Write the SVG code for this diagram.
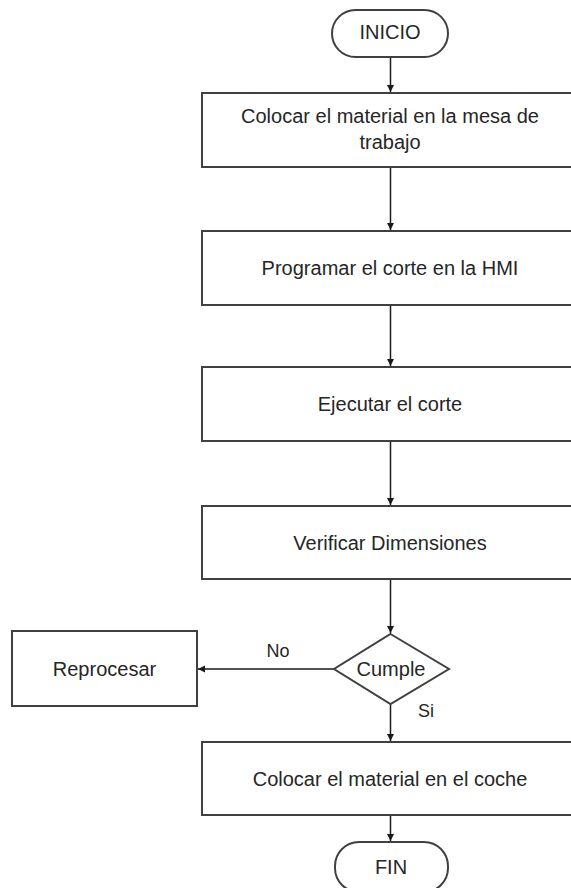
<svg xmlns="http://www.w3.org/2000/svg" width="571" height="888" viewBox="0 0 571 888">
<defs>
<style>
.box{fill:#fff;stroke:#404040;stroke-width:2}
.t{font-family:"Liberation Sans",Arial,sans-serif;font-size:20px;fill:#262626;text-anchor:middle}
.lbl{font-family:"Liberation Sans",Arial,sans-serif;font-size:18px;fill:#262626;text-anchor:middle}
.c{fill:none;stroke:#1a1a1a;stroke-width:1.5}
</style>
<marker id="ah" viewBox="0 0 10 10" refX="10" refY="5" markerWidth="7" markerHeight="8" markerUnits="userSpaceOnUse" orient="auto">
<path d="M0,0 L10,5 L0,10 z" fill="#1a1a1a"/>
</marker>
</defs>
<rect width="571" height="888" fill="#fff"/>
<g id="connectors">
<line class="c" x1="390.5" y1="57" x2="390.5" y2="92" marker-end="url(#ah)"/>
<line class="c" x1="390.5" y1="167" x2="390.5" y2="230" marker-end="url(#ah)"/>
<line class="c" x1="390.5" y1="305" x2="390.5" y2="366" marker-end="url(#ah)"/>
<line class="c" x1="390.5" y1="441" x2="390.5" y2="505" marker-end="url(#ah)"/>
<line class="c" x1="390.5" y1="579" x2="390.5" y2="633" marker-end="url(#ah)"/>
<line class="c" x1="390.5" y1="704" x2="390.5" y2="741" marker-end="url(#ah)"/>
<line class="c" x1="390.5" y1="815" x2="390.5" y2="841" marker-end="url(#ah)"/>
<line class="c" x1="334" y1="669" x2="198" y2="669" marker-end="url(#ah)"/>
<text class="lbl" x="278" y="657">No</text>
<text class="lbl" x="426" y="717">Si</text>
</g>
<g id="inicio">
<rect class="box" x="332" y="10" width="116" height="47" rx="23.5"/>
<text class="t" x="390" y="39">INICIO</text>
</g>
<g id="colocar-mesa">
<rect class="box" x="202" y="93" width="376" height="74"/>
<text class="t" x="390" y="123">Colocar el material en la mesa de</text>
<text class="t" x="390" y="149">trabajo</text>
</g>
<g id="programar">
<rect class="box" x="202" y="231" width="376" height="74"/>
<text class="t" x="390" y="275">Programar el corte en la HMI</text>
</g>
<g id="ejecutar">
<rect class="box" x="202" y="367" width="376" height="74"/>
<text class="t" x="390" y="411">Ejecutar el corte</text>
</g>
<g id="verificar">
<rect class="box" x="202" y="506" width="376" height="73"/>
<text class="t" x="390" y="550">Verificar Dimensiones</text>
</g>
<g id="cumple">
<polygon class="box" points="390.5,634 449,669 390.5,704 334,669"/>
<text class="t" x="391" y="676">Cumple</text>
</g>
<g id="reprocesar">
<rect class="box" x="12" y="631" width="185" height="75"/>
<text class="t" x="104.5" y="676">Reprocesar</text>
</g>
<g id="colocar-coche">
<rect class="box" x="202" y="742" width="376" height="73"/>
<text class="t" x="390" y="786">Colocar el material en el coche</text>
</g>
<g id="fin">
<rect class="box" x="335" y="842" width="113" height="50" rx="24"/>
<text class="t" x="391" y="874">FIN</text>
</g>
</svg>
